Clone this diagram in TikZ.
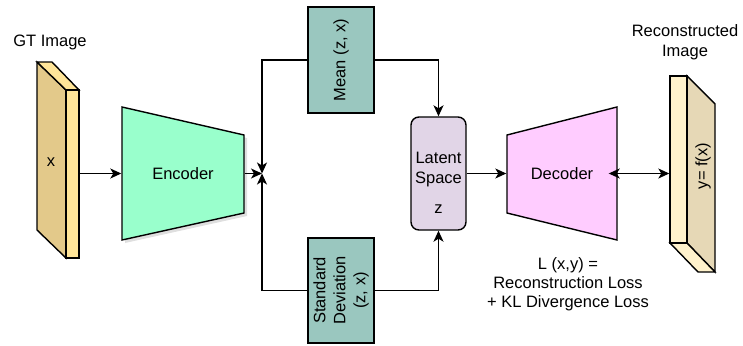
\documentclass[tikz,border=0pt]{standalone}
\usepackage{fontspec}
\setmainfont{Liberation Sans}
\usetikzlibrary{arrows.meta,shadows}

\definecolor{gtside}{HTML}{E3C98A}
\definecolor{gtfront}{HTML}{FFE599}
\definecolor{recside}{HTML}{E6D8B6}
\definecolor{recfront}{HTML}{FFF2CC}
\definecolor{encfill}{HTML}{99FFCC}
\definecolor{decfill}{HTML}{FFCCFF}
\definecolor{statfill}{HTML}{9AC7BF}
\definecolor{latfill}{HTML}{E1D5E7}

\tikzset{
  statbox/.style={draw, fill=statfill, minimum width=66, inner sep=0pt},
  slab/.style={draw, inner sep=0pt},
}

\begin{document}
\begin{tikzpicture}[x=1pt,y=-1pt,line width=1.4pt,>={Stealth[length=11pt,width=10pt,inset=3pt]},
  font=\fontsize{16.5}{20}\selectfont]
\useasboundingbox (0,0) rectangle (743,345);

% input image
\draw[fill=gtside] (37,62) -- (66,90) -- (66,258) -- (37,230) -- cycle;
\draw[fill=gtfront] (37,62) -- (52,62) -- (79,90) -- (66,90) -- cycle;
\node[slab,fill=gtfront,minimum width=13,minimum height=168] (gt) at (72.5,174) {};
\node (gtx) at (51,162) {x};
\node (gttitle) at (50,42) {GT Image};

% encoder
\draw[fill=encfill,drop shadow={opacity=0.25,shadow xshift=3pt,shadow yshift=-3pt}]
  (122,107) -- (244,135) -- (244,213) -- (122,240) -- cycle;
\node[minimum width=122,minimum height=78,inner sep=0pt] (enc) at (183,173.5) {Encoder};
\coordinate (junc) at (262,173.5);

% mean / std
\node[statbox,minimum height=106,label={[rotate=90]center:Mean (z, x)}] (mean) at (341,60) {};
\node[statbox,minimum height=105,
  label={[rotate=90,align=center]center:Standard\\Deviation\\(z, x)}] (std) at (341,290.5) {};

% latent
\node[draw,fill=latfill,rounded corners=8,minimum width=55,minimum height=113,
  label={[align=center,yshift=-9pt]center:Latent\\Space\\[10pt]z}] (lat) at (438.5,173.5) {};

% decoder
\draw[fill=decfill] (507,135) -- (617,107) -- (617,240) -- (507,213) -- cycle;
\node[minimum width=110,minimum height=78,inner sep=0pt] (dec) at (562,173.5) {Decoder};

% output image
\draw[fill=recside] (687,76) -- (715,104) -- (715,272) -- (687,243) -- cycle;
\draw[fill=recfront] (670,243) -- (687,243) -- (715,272) -- (698,272) -- cycle;
\node[slab,fill=recfront,minimum width=17,minimum height=167] (rec) at (678.5,159.5) {};
\node[rotate=90] (recy) at (703,166) {y= f(x)};
\node[align=center] (rectitle) at (685,42) {Reconstructed\\Image};

\node[align=center,font=\fontsize{16.5}{19}\selectfont] (loss) at (568,284)
  {L (x,y) =\\Reconstruction Loss\\+ KL Divergence Loss};

\draw[->] (gt.east |- enc.west) -- (enc.west);
\draw[->] (enc.east) -- (junc);
\draw[->] (mean.west) -| (junc);
\draw[->] (std.west) -| (junc);
\draw[->] (mean.east) -| (lat.north);
\draw[->] (std.east) -| (lat.south);
\draw[->] (lat.east) -- (dec.west);
\draw[<->,shorten <=-9pt] (dec.east) -- (dec.east -| rec.west);
\end{tikzpicture}
\end{document}
